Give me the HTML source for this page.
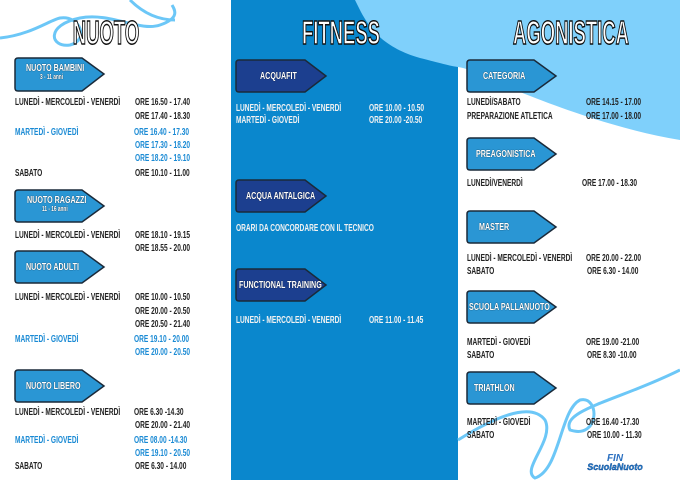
<!DOCTYPE html>
<html><head><meta charset="utf-8"><style>
body{margin:0;width:680px;height:480px;overflow:hidden;background:#fff;position:relative;font-family:"Liberation Sans Narrow","Liberation Sans",sans-serif;font-weight:bold}
.t{position:absolute;font-size:10px;line-height:11px;white-space:nowrap;color:#222;transform:scaleX(0.66);transform-origin:left center}
.b{color:#1a8ad4}.w{color:#f2f2f2}
.h{position:absolute;font-size:33px;font-weight:bold;color:#fff;-webkit-text-stroke:1.5px #111;white-space:nowrap;transform:scaleX(0.56);transform-origin:center;text-align:center;width:240px}
.g{position:absolute;font-size:10.5px;color:#fff;white-space:nowrap;text-shadow:0 0 1px #000;transform:scaleX(0.68);transform-origin:left center}
</style></head><body>
<svg width="680" height="480" style="position:absolute;left:0;top:0">
<rect x="231" y="0" width="227" height="480" fill="#0a87cd"/>
<path d="M355 0 C365 20,375 45,420 58 C440 63,450 66,458 67 L458 0 Z" fill="#7fd0fb"/>
<path d="M458 0 L680 0 L680 140 C620 130,560 108,520 92 C495 80,475 70,458 67 Z" fill="#7fd0fb"/>
<path d="M0 38 C30 35,50 20,60 18 C80 15,90 40,70 45 C50 48,45 25,80 18 C110 12,140 32,160 25 C180 18,175 10,172 5 M130 0 C140 10,155 20,175 20" stroke="#6cc7f7" stroke-width="3" fill="none"/>
<path d="M458 440 C490 420,530 400,545 420 C555 440,520 470,535 478 C560 470,560 410,580 400 C600 395,600 440,570 430 C560 410,620 400,680 370" stroke="#6cc7f7" stroke-width="3" fill="none"/>
<g stroke="#1a2a3a" stroke-width="1.5">
<g fill="#2a96d4">
<path d="M18 58 H82 L104 74 L82 91 H18 Q15 91 15 88 V61 Q15 58 18 58Z"/>
<path d="M18 190 H82 L104 206 L82 222 H18 Q15 222 15 219 V193 Q15 190 18 190Z"/>
<path d="M18 251 H82 L104 267 L82 283 H18 Q15 283 15 280 V254 Q15 251 18 251Z"/>
<path d="M18 370 H82 L104 386 L82 402 H18 Q15 402 15 399 V373 Q15 370 18 370Z"/>
<path d="M470 60 H534 L556 76 L534 92 H470 Q467 92 467 89 V63 Q467 60 470 60Z"/>
<path d="M470 138 H534 L556 154 L534 170 H470 Q467 170 467 167 V141 Q467 138 470 138Z"/>
<path d="M470 211 H534 L556 227 L534 243 H470 Q467 243 467 240 V214 Q467 211 470 211Z"/>
<path d="M470 291 H534 L556 307 L534 323 H470 Q467 323 467 320 V294 Q467 291 470 291Z"/>
<path d="M470 372 H534 L556 388 L534 404 H470 Q467 404 467 401 V375 Q467 372 470 372Z"/>
</g>
<g fill="#1c3f8f">
<path d="M239 60 H305 L326 76 L305 92 H239 Q236 92 236 89 V63 Q236 60 239 60Z"/>
<path d="M239 180 H305 L326 196 L305 212 H239 Q236 212 236 209 V183 Q236 180 239 180Z"/>
<path d="M239 269 H305 L326 285 L305 301 H239 Q236 301 236 298 V272 Q236 269 239 269Z"/>
</g></g>
<text x="615" y="461" font-family="Liberation Sans" font-weight="bold" font-style="italic" font-size="10" fill="#2a6fc0" text-anchor="middle">FIN</text>
<text x="615" y="470" font-family="Liberation Sans" font-weight="bold" font-style="italic" font-size="9" fill="#2a8ad4" stroke="#0b3e8a" stroke-width="0.4" text-anchor="middle">ScuolaNuoto</text>
</svg>
<div class="h" style="left:-14px;top:14px">NUOTO</div>
<div class="h" style="left:221px;top:14px">FITNESS</div>
<div class="h" style="left:451px;top:14px">AGONISTICA</div>

<div class="g" style="left:26px;top:62px">NUOTO BAMBINI</div>
<div class="g" style="left:40px;top:74px;font-size:7px">3 - 11 anni</div>
<div class="g" style="left:27px;top:194px">NUOTO RAGAZZI</div>
<div class="g" style="left:42px;top:206px;font-size:7px">11 - 16 anni</div>
<div class="g" style="left:26px;top:261px">NUOTO ADULTI</div>
<div class="g" style="left:26px;top:380px">NUOTO LIBERO</div>
<div class="g" style="left:260px;top:70px">ACQUAFIT</div>
<div class="g" style="left:246px;top:190px">ACQUA ANTALGICA</div>
<div class="g" style="left:239px;top:279px">FUNCTIONAL TRAINING</div>
<div class="g" style="left:483px;top:70px">CATEGORIA</div>
<div class="g" style="left:476px;top:148px">PREAGONISTICA</div>
<div class="g" style="left:479px;top:221px">MASTER</div>
<div class="g" style="left:469px;top:301px">SCUOLA PALLANUOTO</div>
<div class="g" style="left:474px;top:382px">TRIATHLON</div>

<div class="t" style="left:15px;top:97px">LUNEDÌ - MERCOLEDÌ - VENERDÌ</div>
<div class="t" style="left:135px;top:97px">ORE 16.50 - 17.40</div>
<div class="t" style="left:135px;top:111px">ORE 17.40 - 18.30</div>
<div class="t b" style="left:15px;top:127px">MARTEDÌ - GIOVEDÌ</div>
<div class="t b" style="left:134px;top:127px">ORE 16.40 - 17.30</div>
<div class="t b" style="left:135px;top:140px">ORE 17.30 - 18.20</div>
<div class="t b" style="left:135px;top:153px">ORE 18.20 - 19.10</div>
<div class="t" style="left:15px;top:168px">SABATO</div>
<div class="t" style="left:135px;top:168px">ORE 10.10 - 11.00</div>
<div class="t" style="left:15px;top:230px">LUNEDÌ - MERCOLEDÌ - VENERDÌ</div>
<div class="t" style="left:135px;top:230px">ORE 18.10 - 19.15</div>
<div class="t" style="left:135px;top:243px">ORE 18.55 - 20.00</div>
<div class="t" style="left:15px;top:292px">LUNEDÌ - MERCOLEDÌ - VENERDÌ</div>
<div class="t" style="left:135px;top:292px">ORE 10.00 - 10.50</div>
<div class="t" style="left:135px;top:306px">ORE 20.00 - 20.50</div>
<div class="t" style="left:135px;top:319px">ORE 20.50 - 21.40</div>
<div class="t b" style="left:15px;top:334px">MARTEDÌ - GIOVEDÌ</div>
<div class="t b" style="left:134px;top:334px">ORE 19.10 - 20.00</div>
<div class="t b" style="left:135px;top:347px">ORE 20.00 - 20.50</div>
<div class="t" style="left:15px;top:407px">LUNEDÌ - MERCOLEDÌ - VENERDÌ</div>
<div class="t" style="left:134px;top:407px">ORE 6.30 -14.30</div>
<div class="t" style="left:135px;top:420px">ORE 20.00 - 21.40</div>
<div class="t b" style="left:15px;top:435px">MARTEDÌ - GIOVEDÌ</div>
<div class="t b" style="left:134px;top:435px">ORE 08.00 -14.30</div>
<div class="t b" style="left:135px;top:448px">ORE 19.10 - 20.50</div>
<div class="t" style="left:15px;top:461px">SABATO</div>
<div class="t" style="left:135px;top:461px">ORE 6.30 - 14.00</div>

<div class="t w" style="left:236px;top:103px">LUNEDÌ - MERCOLEDÌ - VENERDÌ</div>
<div class="t w" style="left:369px;top:103px">ORE 10.00 - 10.50</div>
<div class="t w" style="left:236px;top:115px">MARTEDÌ - GIOVEDÌ</div>
<div class="t w" style="left:369px;top:115px">ORE 20.00 -20.50</div>
<div class="t w" style="left:236px;top:223px">ORARI DA CONCORDARE CON IL TECNICO</div>
<div class="t w" style="left:236px;top:315px">LUNEDÌ - MERCOLEDÌ - VENERDÌ</div>
<div class="t w" style="left:369px;top:315px">ORE 11.00 - 11.45</div>

<div class="t" style="left:467px;top:97px">LUNEDÌ/SABATO</div>
<div class="t" style="left:586px;top:97px">ORE 14.15 - 17.00</div>
<div class="t" style="left:467px;top:111px">PREPARAZIONE ATLETICA</div>
<div class="t" style="left:586px;top:111px">ORE 17.00 - 18.00</div>
<div class="t" style="left:467px;top:178px">LUNEDÌ/VENERDÌ</div>
<div class="t" style="left:582px;top:178px">ORE 17.00 - 18.30</div>
<div class="t" style="left:467px;top:253px">LUNEDÌ - MERCOLEDÌ - VENERDÌ</div>
<div class="t" style="left:586px;top:253px">ORE 20.00 - 22.00</div>
<div class="t" style="left:467px;top:266px">SABATO</div>
<div class="t" style="left:587px;top:266px">ORE 6.30 - 14.00</div>
<div class="t" style="left:467px;top:337px">MARTEDÌ - GIOVEDÌ</div>
<div class="t" style="left:586px;top:337px">ORE 19.00 -21.00</div>
<div class="t" style="left:467px;top:350px">SABATO</div>
<div class="t" style="left:587px;top:350px">ORE 8.30 -10.00</div>
<div class="t" style="left:467px;top:417px">MARTEDÌ - GIOVEDÌ</div>
<div class="t" style="left:586px;top:417px">ORE 16.40 -17.30</div>
<div class="t" style="left:467px;top:430px">SABATO</div>
<div class="t" style="left:587px;top:430px">ORE 10.00 - 11.30</div>
</body></html>
